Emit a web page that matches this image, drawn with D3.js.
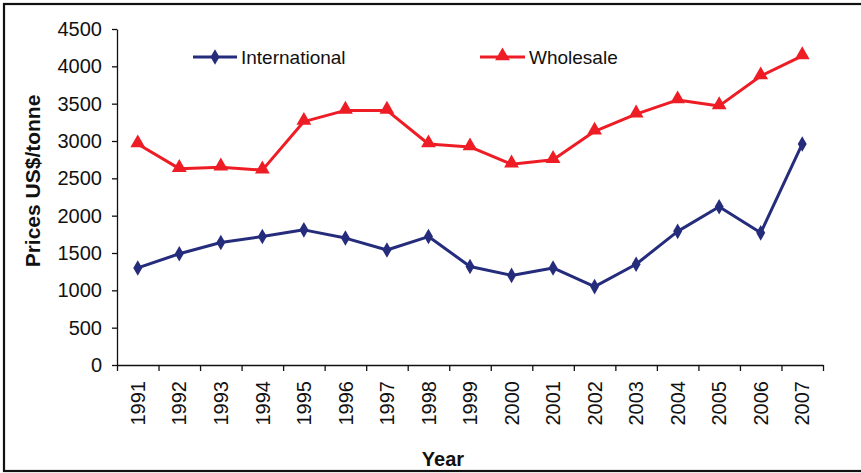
<!DOCTYPE html>
<html>
<head>
<meta charset="utf-8">
<script src="https://cdn.jsdelivr.net/npm/d3@7"></script>
<style>
  html, body { margin: 0; padding: 0; background: #fff; }
  svg { display: block; font-family: "Liberation Sans", Arial, sans-serif; }
</style>
</head>
<body>
<svg id="chart" width="861" height="473"></svg>
<script>
// Prices per tonne, 1991-2007
const years = ["1991","1992","1993","1994","1995","1996","1997","1998","1999","2000","2001","2002","2003","2004","2005","2006","2007"];
const international = [1300,1490,1640,1720,1810,1700,1540,1720,1320,1200,1300,1050,1350,1790,2120,1770,2960];
const wholesale = [2960,2630,2650,2610,3260,3410,3410,2960,2920,2690,2750,3130,3360,3550,3470,3870,4140];
const yTicks = [0,500,1000,1500,2000,2500,3000,3500,4000,4500];
const seriesNames = ["International", "Wholesale"];

const svg = d3.select("#chart");
const W = 861, H = 473;
const plot = { left: 117, right: 823, top: 29, bottom: 365 };

const navy = "#262C7C";
const red = "#EE1D25";

// outer frame
svg.append("rect")
  .attr("x", 4).attr("y", 4)
  .attr("width", W + 10).attr("height", 467)
  .attr("fill", "none").attr("stroke", "#111").attr("stroke-width", 2.2);

const x = d3.scaleBand().domain(years).range([plot.left, plot.right]).paddingInner(0).paddingOuter(0);
const xEdge = d3.scaleLinear().domain([0, years.length]).range([plot.left, plot.right]);
const y = d3.scaleLinear().domain([0, 4500]).range([plot.bottom, plot.top]);

// y axis
const yAxis = svg.append("g")
  .attr("transform", `translate(${plot.left},0)`)
  .call(d3.axisLeft(y).tickValues(yTicks).tickFormat(d3.format("d")).tickSize(5).tickSizeOuter(0).tickPadding(10));
yAxis.selectAll("text").attr("font-size", 20).attr("fill", "#111").attr("font-family", "Liberation Sans, Arial, sans-serif");
yAxis.selectAll("line,path").attr("stroke", "#111").attr("stroke-width", 1.3);

// x axis: tick marks on category boundaries
const xTicks = svg.append("g")
  .attr("transform", `translate(0,${plot.bottom})`)
  .call(d3.axisBottom(xEdge).tickValues(d3.range(years.length + 1)).tickFormat("").tickSize(6).tickSizeOuter(0));
xTicks.selectAll("line,path").attr("stroke", "#111").attr("stroke-width", 1.3);

// x axis labels, rotated
const xLabels = svg.append("g")
  .attr("transform", `translate(0,${plot.bottom})`)
  .call(d3.axisBottom(x).tickSize(0));
xLabels.select(".domain").remove();
xLabels.selectAll("text")
  .attr("transform", "rotate(-90)")
  .attr("x", -16).attr("y", 0).attr("dy", "0.36em")
  .attr("text-anchor", "end")
  .attr("font-size", 20).attr("fill", "#111")
  .attr("font-family", "Liberation Sans, Arial, sans-serif");

// axis titles
svg.append("text")
  .attr("transform", `translate(40,181) rotate(-90)`)
  .attr("text-anchor", "middle")
  .attr("font-size", 21).attr("font-weight", "bold").attr("fill", "#111")
  .text("Prices US$/tonne");
svg.append("text")
  .attr("x", 443).attr("y", 466)
  .attr("text-anchor", "middle")
  .attr("font-size", 20).attr("font-weight", "bold").attr("fill", "#111")
  .text("Year");

const cx = d => x(d) + x.bandwidth() / 2;
const line = d3.line().x((d, i) => cx(years[i])).y(d => y(d));

const diamond = d3.symbol().type(d3.symbolDiamond).size(70);
const triangle = d3.symbol().type(d3.symbolTriangle).size(95);

// wholesale series
svg.append("path").datum(wholesale)
  .attr("d", line).attr("fill", "none")
  .attr("stroke", red).attr("stroke-width", 3).attr("stroke-linejoin", "round");
svg.append("g").selectAll("path").data(wholesale).join("path")
  .attr("d", triangle)
  .attr("transform", (d, i) => `translate(${cx(years[i])},${y(d) - 1})`)
  .attr("fill", red);

// international series
svg.append("path").datum(international)
  .attr("d", line).attr("fill", "none")
  .attr("stroke", navy).attr("stroke-width", 3).attr("stroke-linejoin", "round");
svg.append("g").selectAll("path").data(international).join("path")
  .attr("d", diamond)
  .attr("transform", (d, i) => `translate(${cx(years[i])},${y(d)})`)
  .attr("fill", navy);

// legend
const legend = [
  { name: seriesNames[0], color: navy, sym: diamond, x0: 193, x1: 237, dy: 0 },
  { name: seriesNames[1], color: red, sym: triangle, x0: 480, x1: 525, dy: -1 }
];
const lg = svg.append("g").selectAll("g").data(legend).join("g");
lg.append("line")
  .attr("x1", d => d.x0).attr("x2", d => d.x1)
  .attr("y1", 57).attr("y2", 57)
  .attr("stroke", d => d.color).attr("stroke-width", 3);
lg.append("path")
  .attr("d", d => d.sym())
  .attr("transform", d => `translate(${(d.x0 + d.x1) / 2},${57 + d.dy})`)
  .attr("fill", d => d.color);
lg.append("text")
  .attr("x", d => d.x1 + 4).attr("y", 57).attr("dy", "0.35em")
  .attr("font-size", 19).attr("fill", "#111")
  .text(d => d.name);
</script>
</body>
</html>
